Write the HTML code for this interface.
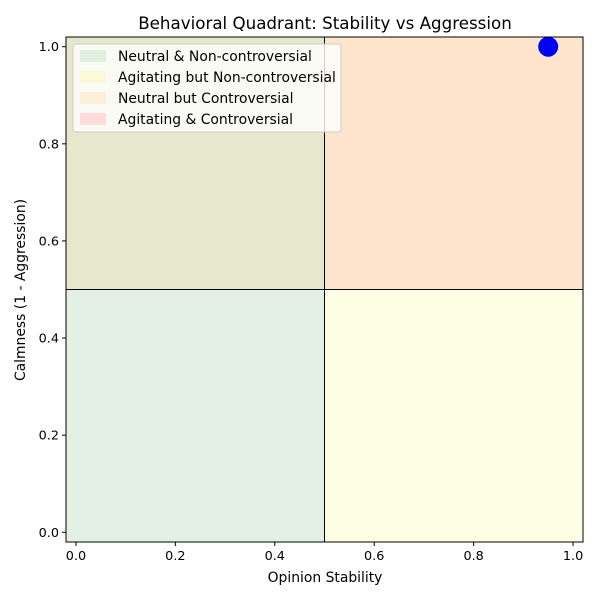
<!DOCTYPE html>
<html><head><meta charset="utf-8"><style>
body{margin:0;background:#fff;font-family:"Liberation Sans","DejaVu Sans",sans-serif;}
svg text{font-family:"DejaVu Sans","Liberation Sans",sans-serif;}
</style></head><body>
<svg id="chart" width="600" height="600" viewBox="0 0 600 600">
<rect width="600" height="600" fill="#fff"/>
<g id="quads"></g>
<g id="lines"></g>
<g id="points"></g>
<rect x="66" y="37" width="517" height="505" fill="none" stroke="#000" stroke-width="1"/>
<g id="xticks"></g><g id="yticks"></g>
<text x="325" y="29" text-anchor="middle" font-size="16.7">Behavioral Quadrant: Stability vs Aggression</text>
<text x="325" y="582" text-anchor="middle" font-size="13.9">Opinion Stability</text>
<text x="25" y="290" text-anchor="middle" font-size="13.9" transform="rotate(-90 25 290)">Calmness (1 - Aggression)</text>
<g id="legend">
<rect x="73" y="44" width="268" height="88" rx="3" fill="#fff" fill-opacity="0.8" stroke="#ccc"/>
</g>
</svg>
<script>
const xTicks=[0,0.2,0.4,0.6,0.8,1.0];
const yTicks=[0,0.2,0.4,0.6,0.8,1.0];
const quadNames=["bottom-left","top-left","top-right","bottom-right"];
const quadX0=[-0.02,-0.02,0.5,0.5];
const quadX1=[0.5,0.5,1.02,1.02];
const quadY0=[-0.02,0.5,0.5,-0.02];
const quadY1=[0.5,1.02,1.02,0.5];
const quadColors=["#e5f0e5","#e5e8cd","#fee3cd","#fefee5"];
const legendLabels=["Neutral & Non-controversial","Agitating but Non-controversial","Neutral but Controversial","Agitating & Controversial"];
const legendColors=["#dfeedd","#fafbd5","#fcefd9","#fddcd9"];
const pointX=[0.95];
const pointY=[1.0];
const NS="http://www.w3.org/2000/svg";
const L=66,R=583,T=37,B=542,lo=-0.02,hi=1.02;
const xs=v=>L+(v-lo)/(hi-lo)*(R-L);
const ys=v=>B-(v-lo)/(hi-lo)*(B-T);
function mk(tag,attrs,parent){const e=document.createElementNS(NS,tag);for(const k in attrs)e.setAttribute(k,attrs[k]);document.getElementById(parent).appendChild(e);return e;}
quadNames.forEach((n,i)=>{
 const r=mk('rect',{x:xs(quadX0[i]),y:ys(quadY1[i]),width:xs(quadX1[i])-xs(quadX0[i]),height:ys(quadY0[i])-ys(quadY1[i]),fill:quadColors[i]},'quads');
 
 
});
let vl=mk('line',{x1:xs(0.5),x2:xs(0.5),y1:T,y2:B,stroke:'#000','stroke-width':1},'lines');


let hl=mk('line',{x1:L,x2:R,y1:ys(0.5),y2:ys(0.5),stroke:'#000','stroke-width':1},'lines');


pointX.forEach((v,i)=>{
 const c=mk('circle',{cx:xs(v),cy:ys(pointY[i]),r:10,fill:'#0000ff'},'points');
 
 
});
xTicks.forEach(v=>{
 const x=xs(v);
 mk('line',{x1:x,x2:x,y1:B,y2:B+4,stroke:'#000'},'xticks');
 const t=mk('text',{x:x,y:B+18,'text-anchor':'middle','font-size':12.8},'xticks');
 t.textContent=v.toFixed(1);
 
 
});
yTicks.forEach(v=>{
 const y=ys(v);
 mk('line',{x1:L-4,x2:L,y1:y,y2:y,stroke:'#000'},'yticks');
 const t=mk('text',{x:L-7,y:y+4.5,'text-anchor':'end','font-size':12.8},'yticks');
 t.textContent=v.toFixed(1);
 
 
});
legendLabels.forEach((lab,i)=>{
 const y=50+i*21;
 mk('rect',{x:80,y:y,width:26,height:12,fill:legendColors[i]},'legend');
 const t=mk('text',{x:118,y:y+11,'font-size':13.9},'legend');
 t.textContent=lab;
 
 
});
</script>
</body></html>
